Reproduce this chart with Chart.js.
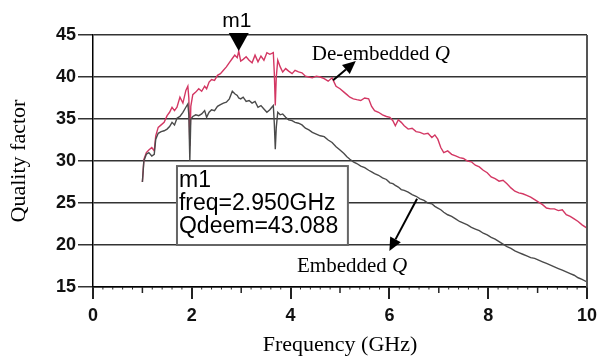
<!DOCTYPE html>
<html><head><meta charset="utf-8">
<script src="https://cdn.jsdelivr.net/npm/chart.js@4"></script>
<style>html,body{margin:0;padding:0;background:#fff}#wrap{width:598px;height:360px}</style>
</head><body><div id="wrap"><canvas id="c" width="598" height="360"></canvas></div>
<script>
// Frequency grid (GHz)
const freq = [1.00,1.03,1.08,1.13,1.19,1.24,1.27,1.32,1.38,1.44,1.50,1.55,1.60,1.65,1.70,1.76,1.82,1.88,1.92,1.94,1.96,1.98,2.02,2.08,2.14,2.20,2.26,2.30,2.35,2.40,2.46,2.52,2.58,2.64,2.70,2.76,2.82,2.87,2.92,2.95,2.99,3.04,3.10,3.16,3.22,3.28,3.34,3.40,3.46,3.52,3.58,3.62,3.65,3.67,3.69,3.71,3.74,3.79,3.84,3.90,3.96,4.03,4.09,4.16,4.23,4.30,4.37,4.44,4.52,4.60,4.68,4.76,4.84,4.92,5.00,5.08,5.14,5.20,5.27,5.34,5.42,5.50,5.58,5.64,5.70,5.78,5.86,5.94,6.01,6.07,6.12,6.18,6.24,6.30,6.38,6.46,6.54,6.62,6.70,6.78,6.86,6.92,6.98,7.04,7.10,7.18,7.26,7.34,7.42,7.50,7.58,7.66,7.74,7.82,7.90,7.98,8.06,8.14,8.22,8.30,8.38,8.46,8.54,8.62,8.70,8.78,8.86,8.94,9.02,9.10,9.18,9.26,9.34,9.42,9.50,9.58,9.66,9.74,9.82,9.90,10.0];
// De-embedded Q
const qDeembedded = [27.5,30.2,31.0,31.3,31.6,31.2,33.0,34.0,34.3,34.6,35.4,35.8,36.4,36.0,36.4,37.6,36.9,38.4,38.9,37.5,31.8,36.5,37.9,38.2,38.6,38.3,38.9,38.6,39.4,39.7,39.6,40.2,40.4,40.8,41.2,41.7,42.2,42.6,42.3,43.088,41.9,42.1,42.4,42.0,41.7,42.6,41.8,42.5,42.0,42.9,42.7,42.8,42.9,40.5,36.6,40.0,42.0,41.2,40.6,41.0,40.7,40.4,40.8,40.6,40.5,40.1,40.0,39.9,40.1,40.0,39.8,39.5,39.9,38.9,38.6,38.2,37.9,37.6,37.4,37.3,37.2,37.5,37.4,36.5,36.0,35.8,35.5,35.3,35.2,34.8,34.2,34.9,34.6,34.2,33.8,33.9,33.5,33.4,33.2,33.3,32.8,33.1,32.6,31.6,31.0,31.2,30.8,30.6,30.4,30.3,30.0,29.9,29.5,29.3,28.9,28.6,28.1,27.9,27.6,27.7,27.3,26.8,26.4,26.2,26.1,25.9,25.7,25.4,25.1,24.8,24.4,24.3,24.3,24.1,24.2,23.6,23.4,23.1,22.8,22.4,22.0];
// Embedded Q
const qEmbedded = [27.5,30.0,30.8,31.0,30.6,30.8,32.6,33.3,33.5,33.6,33.8,34.1,34.6,34.3,35.1,35.3,35.8,36.4,36.8,35.5,30.0,35.0,35.3,35.5,35.4,35.6,36.0,35.2,35.8,36.1,36.0,36.5,36.7,36.9,37.0,37.4,38.3,38.0,37.8,37.5,37.4,37.6,37.1,37.2,36.9,37.1,36.4,36.6,36.2,35.8,36.1,36.4,36.6,34.5,31.4,34.0,35.8,35.5,35.6,35.2,34.9,34.8,34.6,34.5,34.3,33.9,33.7,33.4,33.2,33.0,32.9,32.5,32.2,31.7,31.3,30.9,30.5,30.2,29.9,29.7,29.4,29.2,28.9,28.7,28.5,28.3,28.0,27.8,27.4,27.3,27.1,26.9,26.6,26.5,26.3,26.0,25.8,25.5,25.3,25.0,24.9,24.6,24.4,24.2,23.9,23.6,23.4,23.1,22.8,22.6,22.4,22.1,21.9,21.7,21.4,21.2,20.9,20.7,20.4,20.1,19.8,19.6,19.3,19.1,18.9,18.7,18.5,18.4,18.2,18.0,17.8,17.6,17.4,17.2,17.0,16.8,16.6,16.4,16.1,15.9,15.6];
// Marker
const markerFreq = 2.95;
const markerQ = 43.088;
const markerLines = ["m1", "freq=2.950GHz", "Qdeem=43.088"];

const serif = "'Liberation Serif','Times New Roman',serif";
const sans = "'Liberation Sans',Arial,sans-serif";

const annot = {
  id: 'annot',
  afterDraw(chart) {
    const ctx = chart.ctx, xs = chart.scales.x, ys = chart.scales.y, ca = chart.chartArea;
    ctx.save();
    // right border
    ctx.strokeStyle = '#555'; ctx.lineWidth = 2;
    ctx.beginPath(); ctx.moveTo(ca.right, ca.top); ctx.lineTo(ca.right, ca.bottom); ctx.stroke();
    // odd ticks and minor dots on x axis
    ctx.strokeStyle = '#222'; ctx.lineWidth = 1.5;
    for (let v = 1; v < 10; v += 2) {
      const px = xs.getPixelForValue(v);
      ctx.beginPath(); ctx.moveTo(px, ca.bottom); ctx.lineTo(px, ca.bottom + 6); ctx.stroke();
    }
    ctx.lineWidth = 1;
    for (let k = 1; k < 50; k++) {
      if (k % 5 === 0) continue;
      const px = xs.getPixelForValue(k * 0.2);
      ctx.beginPath(); ctx.moveTo(px, ca.bottom); ctx.lineTo(px, ca.bottom + 2.5); ctx.stroke();
    }
    // marker triangle
    const mx = xs.getPixelForValue(markerFreq), my = ys.getPixelForValue(markerQ);
    ctx.fillStyle = '#000';
    ctx.beginPath(); ctx.moveTo(mx, my); ctx.lineTo(mx - 10, my - 18); ctx.lineTo(mx + 10, my - 18); ctx.closePath(); ctx.fill();
    ctx.font = '21px ' + sans; ctx.textAlign = 'center'; ctx.textBaseline = 'alphabetic';
    ctx.fillText('m1', mx - 2, my - 24);
    // marker info box
    const bx0 = xs.getPixelForValue(1.70), bx1 = xs.getPixelForValue(5.16);
    const by0 = ys.getPixelForValue(29.4), by1 = ys.getPixelForValue(20.0);
    ctx.fillStyle = '#fff'; ctx.fillRect(bx0, by0, bx1 - bx0, by1 - by0);
    ctx.strokeStyle = '#666'; ctx.lineWidth = 2; ctx.strokeRect(bx0, by0, bx1 - bx0, by1 - by0);
    ctx.fillStyle = '#000'; ctx.font = '23px ' + sans; ctx.textAlign = 'left';
    markerLines.forEach((t, i) => ctx.fillText(t, bx0 + 2, by0 + 21 + i * 23));
    // labels with arrows
    function arrow(x0, y0, x1, y1) {
      const p0x = xs.getPixelForValue(x0), p0y = ys.getPixelForValue(y0);
      const p1x = xs.getPixelForValue(x1), p1y = ys.getPixelForValue(y1);
      const a = Math.atan2(p1y - p0y, p1x - p0x), L = 13, W = 6;
      const bxp = p1x - L * Math.cos(a), byp = p1y - L * Math.sin(a);
      ctx.strokeStyle = '#000'; ctx.lineWidth = 2;
      ctx.beginPath(); ctx.moveTo(p0x, p0y); ctx.lineTo(bxp, byp); ctx.stroke();
      ctx.fillStyle = '#000';
      ctx.beginPath(); ctx.moveTo(p1x, p1y);
      ctx.lineTo(bxp + W * Math.sin(a), byp - W * Math.cos(a));
      ctx.lineTo(bxp - W * Math.sin(a), byp + W * Math.cos(a));
      ctx.closePath(); ctx.fill();
    }
    function label(x, y, text) {
      const px = xs.getPixelForValue(x), py = ys.getPixelForValue(y);
      ctx.fillStyle = '#000'; ctx.textAlign = 'left';
      ctx.font = '21px ' + serif; ctx.fillText(text, px, py);
      const w = ctx.measureText(text).width;
      ctx.font = 'italic 21px ' + serif; ctx.fillText('Q', px + w, py);
    }
    label(4.43, 42.0, 'De-embedded ');
    arrow(4.86, 39.6, 5.32, 41.9);
    label(4.13, 16.8, 'Embedded ');
    arrow(6.56, 25.5, 6.0, 19.3);
    ctx.restore();
  }
};

const toPts = arr => freq.map((f, i) => ({x: f, y: arr[i]}));

new Chart(document.getElementById('c'), {
  type: 'line',
  data: {
    datasets: [
      {label: 'Embedded Q', data: toPts(qEmbedded), borderColor: '#4a4a4a', borderWidth: 1.4, pointRadius: 0, tension: 0},
      {label: 'De-embedded Q', data: toPts(qDeembedded), borderColor: '#d33763', borderWidth: 1.4, pointRadius: 0, tension: 0}
    ]
  },
  options: {
    responsive: false, animation: false,
    layout: {padding: {top: 35, right: 11, left: 0, bottom: 0}},
    plugins: {legend: {display: false}, tooltip: {enabled: false}},
    scales: {
      x: {
        type: 'linear', min: 0, max: 10,
        afterFit(s) { s.height = 73; s.paddingRight = 0; s.paddingLeft = 0; },
        ticks: {stepSize: 2, color: '#111', padding: 6, font: {family: sans, size: 18, weight: 'bold'}},
        grid: {drawOnChartArea: false, color: '#222', lineWidth: 2, tickLength: 12},
        border: {display: true, color: '#000', width: 1.5},
        title: {display: true, text: 'Frequency (GHz)', color: '#000', font: {family: serif, size: 22}, padding: {top: 0, bottom: 2}}
      },
      y: {
        min: 15, max: 45,
        afterFit(s) { s.width = 93; s.paddingTop = 0; s.paddingBottom = 0; },
        ticks: {stepSize: 5, color: '#111', padding: 2, font: {family: sans, size: 18, weight: 'bold'}},
        grid: {color: '#333', lineWidth: 1.5, tickLength: 15},
        border: {display: true, color: '#000', width: 1.5},
        title: {display: true, text: 'Quality factor', color: '#000', font: {family: serif, size: 22}, padding: {top: 6, bottom: 0}}
      }
    }
  },
  plugins: [annot]
});
</script></body></html>
